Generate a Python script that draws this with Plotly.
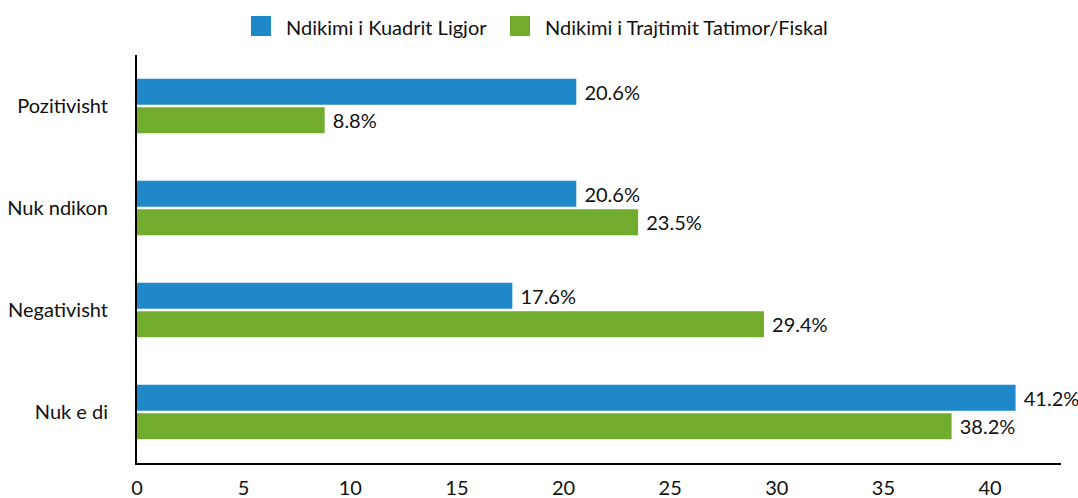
import plotly.graph_objects as go

categories = ["Pozitivisht", "Nuk ndikon", "Negativisht", "Nuk e di"]
series_names = ["Ndikimi i Kuadrit Ligjor", "Ndikimi i Trajtimit Tatimor/Fiskal"]
legal_values = [20.6, 20.6, 17.6, 41.2]
fiscal_values = [8.8, 23.5, 29.4, 38.2]
tick_values = [0, 5, 10, 15, 20, 25, 30, 35, 40]
colors = ["#1E88C8", "#72AC2F"]

W, H = 1078, 498
M = dict(l=137, r=17, t=55, b=35)
FONT = "Lato"
FS = 20

fig = go.Figure()
for name, vals, col in zip(series_names, [legal_values, fiscal_values], colors):
    fig.add_trace(go.Bar(
        y=categories, x=vals, name=name, orientation="h",
        marker=dict(color=col, line=dict(width=0)),
        text=[f" {v:.1f}%" for v in vals], textposition="outside",
        textfont=dict(size=FS, color="#111111"), cliponaxis=False,
        showlegend=False,
    ))

# legend drawn as swatches plus labels above the plot area
plot_w = W - M["l"] - M["r"]
plot_h = H - M["t"] - M["b"]


def px_x(p):
    return (p - M["l"]) / plot_w


def px_y(p):
    return (H - M["b"] - p) / plot_h


legend_items = [(251, series_names[0], colors[0]), (510, series_names[1], colors[1])]
shapes, annotations = [], []
for x0, label, col in legend_items:
    shapes.append(dict(type="rect", xref="paper", yref="paper",
                       x0=px_x(x0), x1=px_x(x0 + 20), y0=px_y(36), y1=px_y(16),
                       fillcolor=col, line=dict(width=0)))
    annotations.append(dict(xref="paper", yref="paper", x=px_x(x0 + 33), y=px_y(27),
                            xanchor="left", yanchor="middle", showarrow=False,
                            text=label, font=dict(size=FS, color="#111111", family=FONT)))

fig.update_layout(
    width=W, height=H,
    margin=M,
    paper_bgcolor="white", plot_bgcolor="white",
    font=dict(family=FONT, size=FS, color="#111111"),
    barmode="group", bargap=0.44, bargroupgap=0.09,
    shapes=shapes, annotations=annotations,
    xaxis=dict(range=[0, 43.33], tickvals=tick_values, showgrid=False, zeroline=False,
               showline=True, linecolor="#000000", linewidth=2, automargin=False,
               ticks="", ticklabelstandoff=6, tickfont=dict(size=FS)),
    yaxis=dict(autorange="reversed", showgrid=False, zeroline=False,
               showline=True, linecolor="#000000", linewidth=2, automargin=False,
               ticks="", ticklabelstandoff=23, tickfont=dict(size=FS)),
)

fig.write_html("out.html")
